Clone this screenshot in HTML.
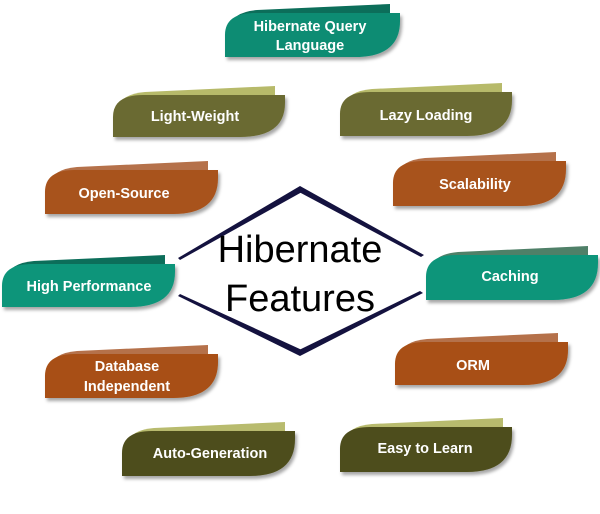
<!DOCTYPE html>
<html><head><meta charset="utf-8"><style>
html,body{margin:0;padding:0;background:#fff;}
svg{display:block}
text{font-family:"Liberation Sans",sans-serif;}
.l{fill:#fff;font-size:14.5px;font-weight:bold;text-anchor:middle;}
</style></head><body>
<svg width="600" height="514" viewBox="0 0 600 514">
<defs>
<filter id="sh" x="-10%" y="-20%" width="130%" height="160%"><feDropShadow dx="2" dy="3" stdDeviation="1.5" flood-color="#000" flood-opacity="0.35"/></filter>
</defs>
<!-- diamond -->
<g fill="#14123f">
<polygon points="178,258 300,186 302,192 180,260"/>
<polygon points="300,186 424,255 421,257 299,192"/>
<polygon points="178,296 300,356 302,350 180,294"/>
<polygon points="300,356 423,293 420,291 299,350"/>
</g>
<text x="300" y="262" font-size="38" text-anchor="middle" fill="#000">Hibernate</text>
<text x="300" y="311" font-size="38" text-anchor="middle" fill="#000">Features</text>

<!-- boxes: main path template -->
<!-- HQL -->
<g transform="translate(225,13)">
<path d="M4,14 Q8,-1 32,-3 L165,-9 L165,0 Z" fill="#0c6e5a"/>
<path filter="url(#sh)" d="M0,44 L0,22 Q0,0 30,0 L175,0 L175,8 Q175,44 130,44 Z" fill="#0a8c73"/>
<text class="l" x="85" y="18">Hibernate Query</text>
<text class="l" x="85" y="37">Language</text>
</g>
<!-- Light-Weight -->
<g transform="translate(113,95)">
<path d="M4,14 Q8,-1 32,-3 L162,-9 L162,0 Z" fill="#b7ba6a"/>
<path filter="url(#sh)" d="M0,42 L0,22 Q0,0 30,0 L172,0 L172,8 Q172,42 127,42 Z" fill="#6b6b30"/>
<text class="l" x="82" y="26">Light-Weight</text>
</g>
<!-- Lazy Loading -->
<g transform="translate(340,92)">
<path d="M4,14 Q8,-1 32,-3 L162,-9 L162,0 Z" fill="#b7ba6a"/>
<path filter="url(#sh)" d="M0,44 L0,22 Q0,0 30,0 L172,0 L172,8 Q172,44 127,44 Z" fill="#6b6b30"/>
<text class="l" x="86" y="28">Lazy Loading</text>
</g>
<!-- Open-Source -->
<g transform="translate(45,170)">
<path d="M4,14 Q8,-1 32,-3 L163,-9 L163,0 Z" fill="#b5714a"/>
<path filter="url(#sh)" d="M0,44 L0,22 Q0,0 30,0 L173,0 L173,8 Q173,44 128,44 Z" fill="#a8521a"/>
<text class="l" x="79" y="28">Open-Source</text>
</g>
<!-- Scalability -->
<g transform="translate(393,161)">
<path d="M4,14 Q8,-1 32,-3 L163,-9 L163,0 Z" fill="#b5714a"/>
<path filter="url(#sh)" d="M0,45 L0,22 Q0,0 30,0 L173,0 L173,8 Q173,45 128,45 Z" fill="#a8521a"/>
<text class="l" x="82" y="28">Scalability</text>
</g>
<!-- High Performance -->
<g transform="translate(2,264)">
<path d="M4,14 Q8,-1 32,-3 L163,-9 L163,0 Z" fill="#0c6e5a"/>
<path filter="url(#sh)" d="M0,43 L0,22 Q0,0 30,0 L173,0 L173,8 Q173,43 128,43 Z" fill="#0a957a"/>
<text class="l" x="87" y="27">High Performance</text>
</g>
<!-- Caching -->
<g transform="translate(426,255)">
<path d="M4,14 Q8,-1 32,-3 L162,-9 L162,0 Z" fill="#4f8068"/>
<path filter="url(#sh)" d="M0,45 L0,22 Q0,0 30,0 L172,0 L172,8 Q172,45 127,45 Z" fill="#0a957a"/>
<text class="l" x="84" y="26">Caching</text>
</g>
<!-- Database Independent -->
<g transform="translate(45,354)">
<path d="M4,14 Q8,-1 32,-3 L163,-9 L163,0 Z" fill="#b5714a"/>
<path filter="url(#sh)" d="M0,44 L0,22 Q0,0 30,0 L173,0 L173,8 Q173,44 128,44 Z" fill="#a84f12"/>
<text class="l" x="82" y="17">Database</text>
<text class="l" x="82" y="37">Independent</text>
</g>
<!-- ORM -->
<g transform="translate(395,342)">
<path d="M4,14 Q8,-1 32,-3 L163,-9 L163,0 Z" fill="#b5714a"/>
<path filter="url(#sh)" d="M0,43 L0,22 Q0,0 30,0 L173,0 L173,8 Q173,43 128,43 Z" fill="#a84f12"/>
<text class="l" x="78" y="28">ORM</text>
</g>
<!-- Auto-Generation -->
<g transform="translate(122,431)">
<path d="M4,14 Q8,-1 32,-3 L163,-9 L163,0 Z" fill="#b8bb6e"/>
<path filter="url(#sh)" d="M0,45 L0,22 Q0,0 30,0 L173,0 L173,8 Q173,45 128,45 Z" fill="#4d4d1b"/>
<text class="l" x="88" y="27">Auto-Generation</text>
</g>
<!-- Easy to Learn -->
<g transform="translate(340,427)">
<path d="M4,14 Q8,-1 32,-3 L163,-9 L163,0 Z" fill="#b8bb6e"/>
<path filter="url(#sh)" d="M0,45 L0,22 Q0,0 30,0 L172,0 L172,8 Q172,45 127,45 Z" fill="#4d4d1b"/>
<text class="l" x="85" y="26">Easy to Learn</text>
</g>
</svg>
</body></html>
